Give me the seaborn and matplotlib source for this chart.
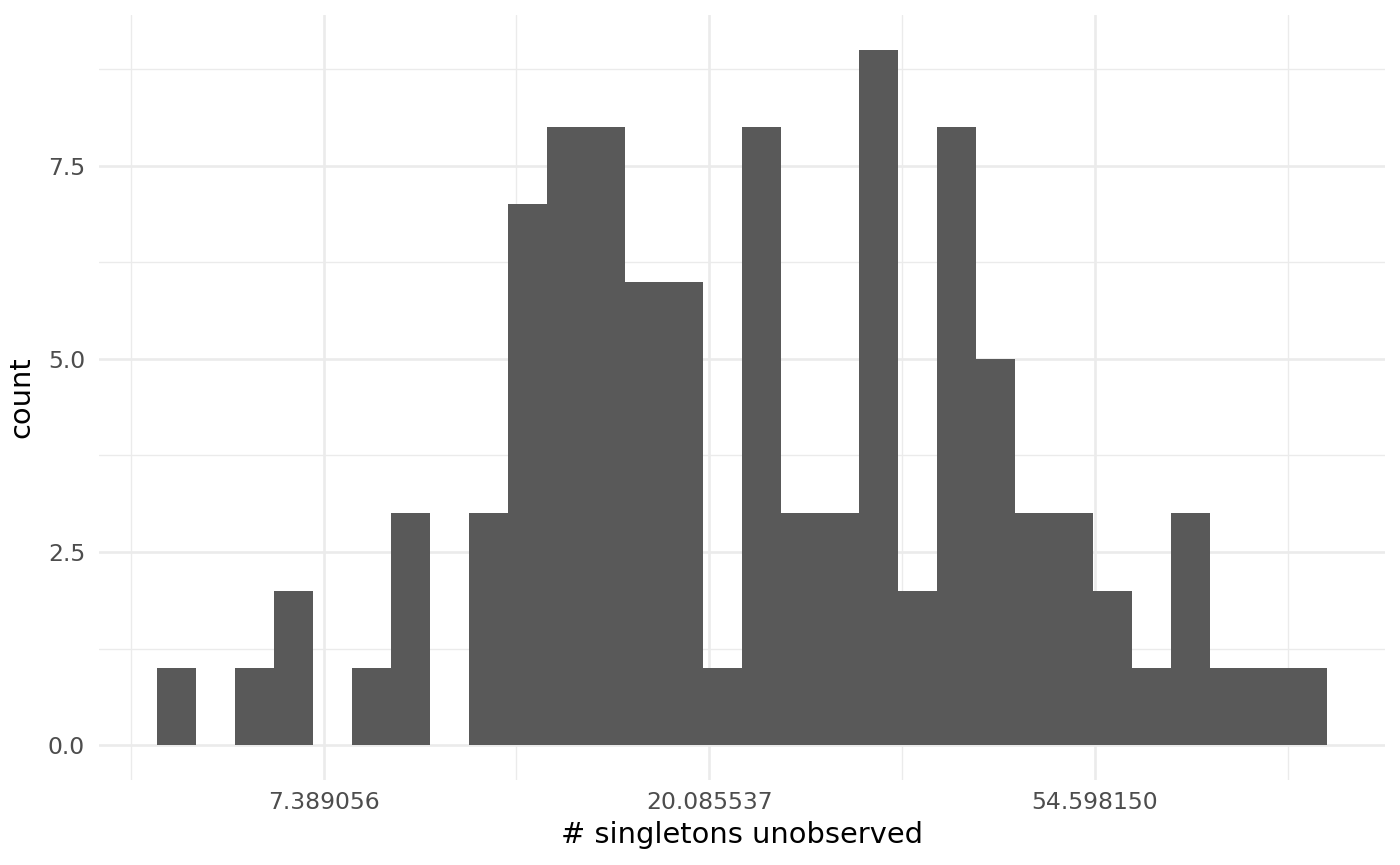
import numpy as np
import pandas as pd
import matplotlib
matplotlib.use("Agg")
import matplotlib.pyplot as plt
import seaborn as sns

# natural-log bin edges of the histogram (30 bins)
log_bin_start = 1.5694
log_bin_end = 4.601
counts = [1, 0, 1, 2, 0, 1, 3, 0, 3, 7, 8, 8, 6, 6, 1,
          8, 3, 3, 9, 2, 8, 5, 3, 3, 2, 1, 3, 1, 1, 1]
x_major = [2, 3, 4]
x_labels = ["7.389056", "20.085537", "54.598150"]
x_minor = [1.5, 2.5, 3.5, 4.5]
y_major = [0, 2.5, 5.0, 7.5]
y_labels = ["0.0", "2.5", "5.0", "7.5"]
y_minor = [1.25, 3.75, 6.25, 8.75]

edges = np.linspace(log_bin_start, log_bin_end, len(counts) + 1)
centers = (edges[:-1] + edges[1:]) / 2
df = pd.DataFrame({"x": centers, "n": counts})

sns.set_theme(style="white")
plt.rcParams['font.family'] = ['DejaVu Sans']

fig = plt.figure(figsize=(14, 8.65), dpi=100)
ax = fig.add_axes([99 / 1400, 1 - 780 / 865, (1385 - 99) / 1400, (780 - 15) / 865])

sns.histplot(data=df, x="x", weights="n", bins=len(counts),
             binrange=(log_bin_start, log_bin_end), color="#595959",
             alpha=1, edgecolor="none", linewidth=0, ax=ax, zorder=3)

span = log_bin_end - log_bin_start
ax.set_xlim(log_bin_start - 0.05 * span, log_bin_end + 0.05 * span)
ax.set_ylim(-0.45, 9.45)

ax.set_xticks(x_major)
ax.set_xticklabels(x_labels)
ax.set_xticks(x_minor, minor=True)
ax.set_yticks(y_major)
ax.set_yticklabels(y_labels)
ax.set_yticks(y_minor, minor=True)

ax.grid(which="major", color="#EBEBEB", linewidth=1.9, zorder=0)
ax.grid(which="minor", color="#EBEBEB", linewidth=0.95, zorder=0)
ax.set_axisbelow(True)
for s in ax.spines.values():
    s.set_visible(False)
ax.tick_params(which="both", length=0)
ax.tick_params(axis="x", labelsize=16.9, labelcolor="#4D4D4D", pad=8)
ax.tick_params(axis="y", labelsize=16.9, labelcolor="#4D4D4D", pad=10)

ax.set_xlabel("# singletons unobserved", fontsize=20.8, color="black", labelpad=5)
ax.set_ylabel("count", fontsize=20.8, color="black", labelpad=9)

fig.savefig("out.png", dpi=100, facecolor="white")
